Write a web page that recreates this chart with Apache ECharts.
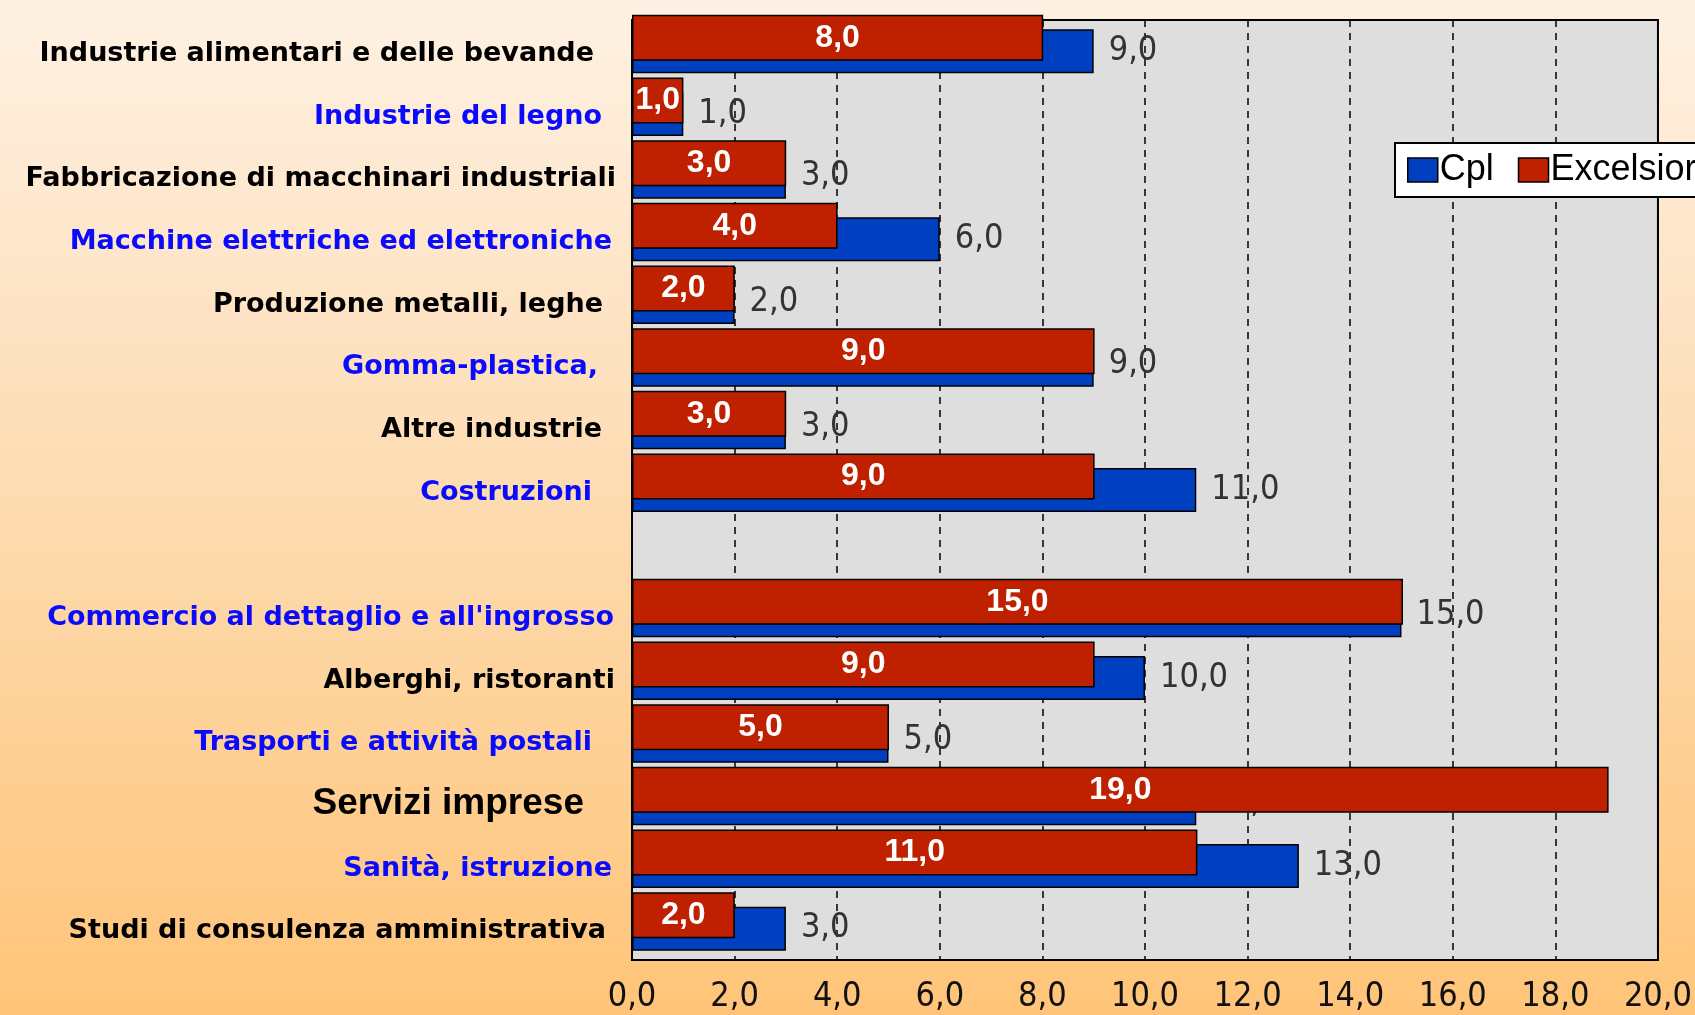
<!DOCTYPE html>
<html><head><meta charset="utf-8">
<script src="https://cdn.jsdelivr.net/npm/echarts@6/dist/echarts.min.js"></script>
<style>html,body{margin:0;padding:0;overflow:hidden;} #c{width:1695px;height:1015px;}</style>
</head><body><div id="c"></div>
<script>
// ---- data ----
const categories = [
  'Industrie alimentari e delle bevande',
  'Industrie del legno',
  'Fabbricazione di macchinari industriali',
  'Macchine elettriche ed elettroniche',
  'Produzione metalli, leghe',
  'Gomma-plastica,',
  'Altre industrie',
  'Costruzioni',
  '',
  "Commercio al dettaglio e all'ingrosso",
  'Alberghi, ristoranti',
  'Trasporti e attività postali',
  'Servizi imprese',
  'Sanità, istruzione',
  'Studi di consulenza amministrativa'
];
const cplValues       = [9, 1, 3, 6, 2, 9, 3, 11, null, 15, 10, 5, 11, 13, 3];
const excelsiorValues = [8, 1, 3, 4, 2, 9, 3, 9,  null, 15, 9,  5, 19, 11, 2];
const seriesNames = ['Cpl', 'Excelsior'];
const xMin = 0, xMax = 20, xInterval = 2;

// ---- label styling (not data) ----
const labelTone = ['k','b','k','b','k','b','k','b','k','b','k','b','big','b','k'];
const labelGap  = [38, 30, 16, 20, 29, 34, 30, 40, 0, 18, 17, 40, 48, 20, 26];

const fmt = v => Number(v).toFixed(1).replace('.', ',');
const BLUE = '#0040c0', RED = '#bf2000';
const baseMargin = 14;
const rich = {};
labelTone.forEach((t, i) => {
  const pad = [5, Math.max(0, labelGap[i] - baseMargin), 0, 0];
  if (t === 'big') {
    rich['r' + i] = {fontFamily: '"Liberation Sans", Arial, sans-serif', fontWeight: 'bold', fontSize: 37, color: '#000', padding: [0, pad[1], 0, 0]};
  } else {
    rich['r' + i] = {fontFamily: '"DejaVu Sans", Verdana, sans-serif', fontWeight: 'bold', fontSize: 27, color: t === 'b' ? '#0a0aff' : '#000', padding: pad};
  }
});

const chart = echarts.init(document.getElementById('c'), null, {renderer: 'canvas'});
const shiftUp = 13.5;
chart.setOption({
  backgroundColor: new echarts.graphic.LinearGradient(0, 0, 0, 1, [
    {offset: 0, color: '#fef1e3'},
    {offset: 0.5, color: '#fddbb0'},
    {offset: 1, color: '#ffc478'}
  ]),
  animation: false,
  legend: {
    data: seriesNames,
    orient: 'horizontal',
    left: 1395, top: 143, width: 600,
    backgroundColor: '#ffffff',
    borderColor: '#000', borderWidth: 2,
    padding: [9, 12, 9, 12],
    itemWidth: 30, itemHeight: 24, itemGap: 24,
    icon: 'rect',
    itemStyle: {borderColor: '#000', borderWidth: 1.5},
    textStyle: {fontFamily: '"Liberation Sans", Arial, sans-serif', fontSize: 36, color: '#000', padding: [0, 0, 0, -3]}
  },
  grid: [
    {left: 632, right: 35, top: 20, bottom: 55, show: true, backgroundColor: '#dedede', borderColor: '#000', borderWidth: 2},
    {left: 632, right: 35, top: 20 - shiftUp, bottom: 55 + shiftUp, show: false}
  ],
  xAxis: [
    {gridIndex: 0, type: 'value', min: xMin, max: xMax, interval: xInterval,
     axisLine: {show: true, lineStyle: {color: '#000', width: 2}},
     axisTick: {show: false},
     splitLine: {show: true, lineStyle: {color: '#000', type: [7, 6], width: 1.5}},
     axisLabel: {formatter: v => fmt(v), margin: 20, color: '#111', fontSize: 34,
       fontFamily: '"Liberation Sans Narrow", "DejaVu Sans Condensed", sans-serif'}},
    {gridIndex: 1, type: 'value', min: xMin, max: xMax, interval: xInterval, show: false, splitLine: {show: false}}
  ],
  yAxis: [
    {gridIndex: 0, type: 'category', data: categories, inverse: true,
     axisLine: {show: true, lineStyle: {color: '#000', width: 2}},
     axisTick: {show: false},
     axisLabel: {margin: baseMargin, interval: 0, rich: rich,
       formatter: (v, i) => v ? '{r' + i + '|' + v + '}' : ''}},
    {gridIndex: 1, type: 'category', data: categories, inverse: true, show: false}
  ],
  series: [
    {name: 'Cpl', type: 'bar', xAxisIndex: 0, yAxisIndex: 0, data: cplValues, barWidth: 44, z: 2,
     itemStyle: {color: BLUE, borderColor: '#000', borderWidth: 1.5},
     label: {show: true, position: 'right', distance: 15, formatter: p => fmt(p.value),
       color: '#333', fontSize: 34, fontFamily: '"Liberation Sans Narrow", "DejaVu Sans Condensed", sans-serif'}},
    {name: 'Excelsior', type: 'bar', xAxisIndex: 1, yAxisIndex: 1, data: excelsiorValues, barWidth: 46, z: 3,
     itemStyle: {color: RED, borderColor: '#000', borderWidth: 1.5},
     label: {show: true, position: 'inside', formatter: p => fmt(p.value),
       color: '#fff', fontSize: 32, fontWeight: 'bold', fontFamily: '"Liberation Sans", Arial, sans-serif'}}
  ]
});
</script>
</body></html>
